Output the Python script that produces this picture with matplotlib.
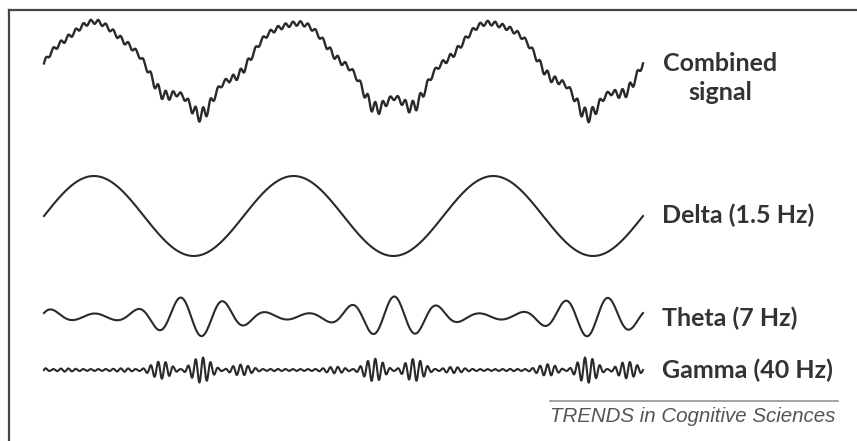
import numpy as np
import matplotlib.pyplot as plt
from matplotlib.lines import Line2D

# oscillation bands (frequencies as labelled)
band_labels = ['Delta (1.5 Hz)', 'Theta (7 Hz)', 'Gamma (40 Hz)']
band_freqs = [1.5, 7.0, 40.0]
band_phase = [0.0, 0.063, 0.0]          # phase offset in cycles
# amplitude floor of theta / gamma (fraction of peak amplitude)
theta_floor = 0.15
gamma_floor = 0.07
# how much of each band goes into the combined trace
combined_mix = [1.0, 0.22, 0.12]
combined_jitter = 0.045                 # steady gamma ripple in the combined trace

duration = 2.0
W, H = 857, 441

fig = plt.figure(figsize=(W / 100, H / 100), dpi=100)
fig.patch.set_facecolor('white')

# x is time in seconds, y is in pixel rows (down = positive)
x0, x1 = 44, 643
px_per_s = (x1 - x0) / duration
ax = fig.add_axes([0, 0, 1, 1])
ax.set_xlim(-x0 / px_per_s, (W - x0) / px_per_s)
ax.set_ylim(H, 0)
ax.axis('off')

t = np.linspace(0, duration, 6000)
delta = np.sin(2 * np.pi * (band_freqs[0] * t + band_phase[0]))
theta_s = np.sin(2 * np.pi * (band_freqs[1] * t + band_phase[1]))
gamma_s = np.sin(2 * np.pi * (band_freqs[2] * t + band_phase[2]))

# theta is strongest at the delta trough, gamma at theta troughs
delta_trough = ((1 - delta) / 2) ** 1.5
theta_env = theta_floor + (1 - theta_floor) * delta_trough
theta = theta_env * theta_s
gamma_env = gamma_floor + (1 - gamma_floor) * delta_trough * ((1 - theta_s) / 2)
gamma = gamma_env * gamma_s

combined = (combined_mix[0] * delta + combined_mix[1] * theta
            + combined_mix[2] * gamma + combined_jitter * gamma_s)

line_col = '#2a2a2a'
ax.plot(t, 65 - 42 * combined, color=line_col, lw=1.7)
ax.plot(t, 216 - 40 * delta, color=line_col, lw=1.5)
ax.plot(t, 316.5 - 20 * theta, color=line_col, lw=1.5)
ax.plot(t, 370 - 13 * gamma, color=line_col, lw=1.5)

# labels on the right
lab_kw = dict(fontfamily='Lato', fontweight='bold', fontsize=18, color='#333333')
fig.text(720 / W, 1 - 78 / H, 'Combined\nsignal', ha='center', va='center',
         linespacing=1.3, **lab_kw)
for lab, yc in zip(band_labels, [215, 318, 370]):
    fig.text(662 / W, 1 - yc / H, lab, ha='left', va='center', **lab_kw)

# journal credit line
fig.add_artist(Line2D([550 / W, 838 / W], [1 - 401 / H] * 2,
                      transform=fig.transFigure, color='#8a8a8a', lw=1.1))
fig.text(550 / W, 1 - 417 / H, 'TRENDS in Cognitive Sciences', ha='left', va='center',
         fontfamily='Liberation Sans', fontstyle='italic', fontsize=14.8,
         color='#555555')

# frame on top and left
fig.add_artist(Line2D([9 / W, 1], [1 - 10 / H] * 2, transform=fig.transFigure,
                      color='#444444', lw=1.6))
fig.add_artist(Line2D([9 / W] * 2, [1 - 10 / H, 0], transform=fig.transFigure,
                      color='#444444', lw=1.6))

fig.savefig('out.png', dpi=100, facecolor='white')
